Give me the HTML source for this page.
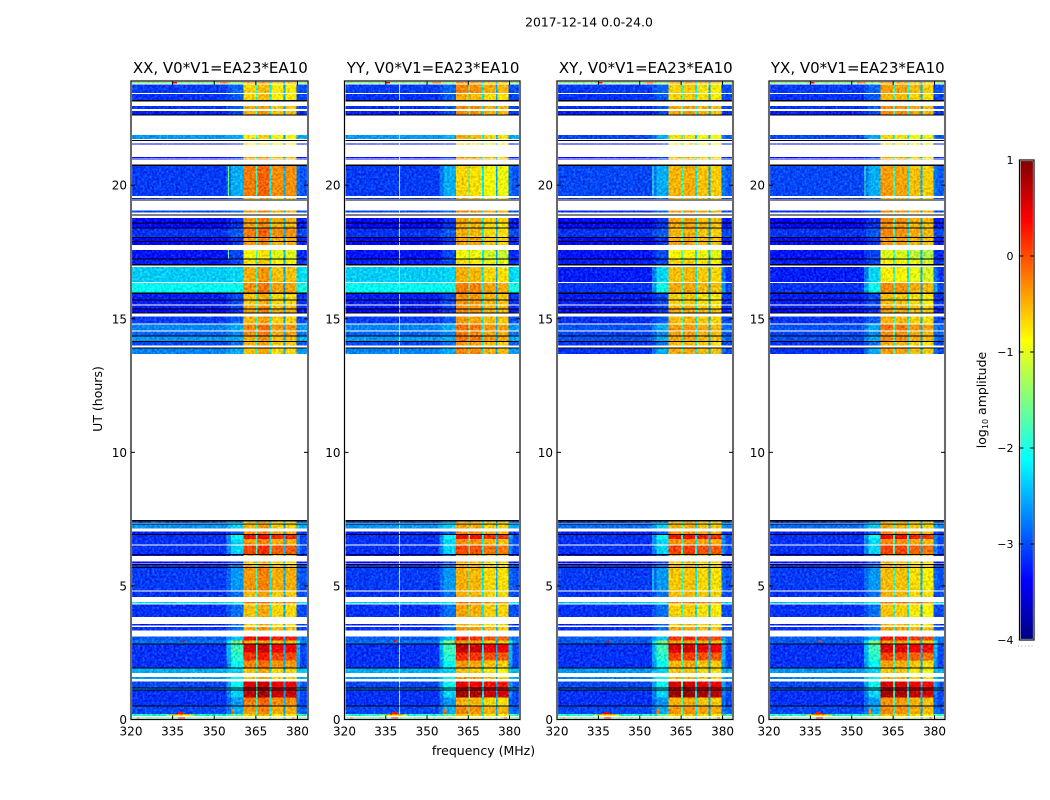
<!DOCTYPE html>
<html lang="en">
<head>
<meta charset="utf-8">
<title>2017-12-14 0.0-24.0</title>
<style>
html,body{margin:0;padding:0;background:#fff;width:1050px;height:800px;overflow:hidden}
svg{display:block}
text{font-family:"DejaVu Sans","Liberation Sans",sans-serif;fill:#000}
</style>
</head>
<body>
<svg id="figure" xmlns="http://www.w3.org/2000/svg" width="1050" height="800" viewBox="0 0 1050 800">
<defs>
<filter id="speckle" x="0" y="0" width="100%" height="100%" color-interpolation-filters="sRGB">
<feTurbulence type="fractalNoise" baseFrequency="0.42" numOctaves="2" seed="4" result="n"/>
<feColorMatrix in="n" type="matrix" values="1 0 0 0 0 1 0 0 0 0 1 0 0 0 0 0 0 0 0 1" result="g"/>
<feComposite in="SourceGraphic" in2="g" operator="arithmetic" k1="0" k2="1" k3="0.55" k4="-0.3" result="c"/>
<feComposite in="c" in2="SourceAlpha" operator="in"/>
</filter>
</defs>
<text x="589" y="26.5" font-size="12.4" text-anchor="middle">2017-12-14 0.0-24.0</text>
<text x="483.5" y="755" font-size="12.5" text-anchor="middle">frequency (MHz)</text>
<text transform="translate(102 399) rotate(-90)" font-size="12.5" text-anchor="middle">UT (hours)</text>
<text transform="translate(986 400) rotate(-90)" font-size="12.5" text-anchor="middle">log<tspan font-size="8" dy="2">10</tspan><tspan dy="-2"> amplitude</tspan></text>
</svg>
<script>
// ---- chart data ----
const panelTitles = ["XX, V0*V1=EA23*EA10","YY, V0*V1=EA23*EA10","XY, V0*V1=EA23*EA10","YX, V0*V1=EA23*EA10"];
const xTickLabels = [320,335,350,365,380];
const yTickLabels = [0,5,10,15,20];
const colorbarTickLabels = [1,0,-1,-2,-3,-4];

// observed time bands (UT hours)
const bandStart = [0,.13,.21,.52,.82,1.12,1.2,1.51,1.74,1.95,
2.21,2.51,2.85,2.96,3.33,3.51,3.83,4.34,4.58,4.83,
5.7,5.83,6.12,6.2,6.55,6.76,6.95,7.15,7.36,13.69,
14.0,14.16,14.38,14.57,14.83,15.23,15.38,15.54,15.98,16.38,
17.05,17.26,17.77,17.92,18.07,18.41,18.61,18.97,19.49,19.6,
20.94,21.0,21.52,21.72,22.65,22.86,23.18,23.46,23.81];
const bandEnd = [.07,.21,.5,.82,1.1,1.17,1.43,1.6,1.91,2.21,
2.51,2.81,2.96,3.11,3.46,3.58,4.3,4.39,4.79,5.67,
5.79,5.92,6.16,6.52,6.76,6.92,7.03,7.3,7.42,13.88,
14.13,14.34,14.53,14.79,15.09,15.35,15.5,15.93,16.34,16.94,
17.23,17.57,17.9,18.05,18.38,18.59,18.78,19.06,19.52,20.71,
20.97,21.06,21.56,21.87,22.77,22.96,23.42,23.77,23.9];

// log10 amplitude per band: off-band background
const backgroundParallel = [-1.7,-1.9,-3,-3.1,-3.1,-2.7,-3,-2.6,-2.5,-3.1,
-3.1,-3.1,-2.8,-2.9,-3.1,-3.2,-3.1,-2.3,-3.1,-3.05,
-3.1,-3.3,-3.3,-3.1,-3.1,-3.1,-3.2,-2.6,-2.9,-2.7,
-3,-2.6,-2.85,-2.7,-3.05,-3.3,-3.2,-3.2,-2.1,-2.35,
-3.2,-3.25,-3.3,-3.3,-3.1,-3.3,-3.3,-3,-3.1,-3.05,
-3.3,-3.3,-3.3,-2.6,-3.2,-3.1,-3.1,-3.05,-1.5];
const backgroundCross = [-1.7,-1.9,-3,-3.1,-3.1,-2.8,-3,-2.7,-2.6,-3.1,
-3.1,-3.1,-2.9,-2.9,-3.1,-3.2,-3.1,-2.4,-3.1,-3.05,
-3.1,-3.3,-3.3,-3.1,-3.1,-3.1,-3.2,-2.8,-3,-3.1,
-3.1,-2.95,-3,-2.95,-3.1,-3.3,-3.2,-3.2,-3.1,-3.2,
-3.2,-3.25,-3.3,-3.3,-3.1,-3.3,-3.3,-3.1,-3.1,-3,
-3.3,-3.3,-3.3,-3,-3.2,-3.1,-3.1,-3.05,-1.5];
// band-edge shoulder below the hot channels
const shoulderLevel = [-1.5,-1.6,-2.5,-2.6,-2.3,-2.2,-2.1,-2.1,-2.3,-2.1,
-1.9,-1.8,-1.5,-2.4,-2.8,-2.8,-2.8,-2.1,-2.8,-2.6,
-2.8,-3,-3,-2.3,-2.3,-2.1,-2.9,-2.3,-2.6,-2.5,
-2.8,-2.5,-2.7,-2.5,-2.9,-3.1,-3,-3,-2.05,-2.3,
-3,-3,-3.1,-3.1,-2.9,-3.1,-3.1,-2.8,-2.9,-2.5,
-3.1,-3.1,-3.1,-2.5,-3,-2.9,-2.9,-2.85,-1.4];
// hot channel level per polarisation
const channelXX = [-1,-.7,-.4,-.25,.7,.5,.5,-.6,-.6,-.3,
.1,.5,-.5,.3,-.5,-.6,-.6,-.3,-.55,-.4,
-.5,-.6,-.6,0,-.4,.25,-.4,-.55,-.6,-.6,
-.55,-.5,-.35,-.3,-.55,-.4,-.5,-.6,-.35,-.5,
-.75,-.9,-.4,-.4,-.25,-.45,-.4,-.4,-.6,-.25,
-.5,-.5,-.8,-.8,-.5,-.5,-.7,-.7,-.5];
const channelYY = [-1,-.7,-.4,-.6,.7,.4,.35,-.5,-.7,-.5,
.05,.55,-.5,.05,-.5,-.6,-.55,-.3,-.6,-.6,
-.55,-.6,-.6,-.1,-.45,.25,-.4,-.55,-.6,-.4,
-.5,-.3,-.35,-.3,-.5,-.4,-.45,-.45,-.35,-.6,
-.85,-1,-.5,-.5,-.6,-.6,-.55,-.4,-.6,-.8,
-.5,-.5,-.8,-.6,-.4,-.4,-.6,-.4,-.5];
const channelXY = [-1,-.7,-.4,-.55,.8,.45,.5,-.6,-.65,-.55,
0,.5,-.5,.1,-.5,-.6,-.7,-.3,-.6,-.65,
-.55,-.6,-.6,0,-.4,.25,-.4,-.55,-.6,-.5,
-.6,-.5,-.45,-.45,-.6,-.5,-.6,-.7,-.5,-.6,
-.7,-.9,-.5,-.5,-.55,-.5,-.5,-.45,-.6,-.55,
-.6,-.6,-.8,-.8,-.5,-.5,-.7,-.7,-.5];
const channelYX = [-1,-.7,-.4,-.45,.7,.45,.45,-.6,-.7,-.55,
-.05,.45,-.5,.15,-.5,-.6,-.7,-.3,-.6,-.65,
-.55,-.6,-.6,-.05,-.4,.25,-.4,-.55,-.6,-.5,
-.6,-.4,-.4,-.3,-.6,-.5,-.55,-.65,-.4,-.9,
-.9,-1.1,-.45,-.45,-.4,-.45,-.4,-.4,-.6,-.5,
-.6,-.6,-.8,-.8,-.4,-.4,-.6,-.5,-.5];
// per-channel difference within a polarisation
const channelShiftXX = [0,.12,-.1,-.1];
const channelShiftYY = [.1,.05,-.1,-.15];
const channelShiftXY = [.02,.05,-.05,-.1];
const channelShiftYX = [.08,.05,-.08,-.15];

// frequency layout (MHz)
const shoulderRampMHz = 354.5;
const shoulderStartMHz = 356;
const channelStartMHz = [360.5,365.6,370.7,375.6];
const channelEndMHz = [365,370,375,379.6];
const gapLevels = [-1.8,-2.2,-2.5];
const tailBreakMHz = 381;

// samples below the colour scale
const flaggedStart = [.5,1.1,1.17,1.91,2.81,5.67,5.79,6.16,6.92,7.3,7.42,13.88,14.13,14.34,15.2,15.35,15.7,15.93,17.0,17.23,17.9,18.05,18.38,18.59,18.88,19.43,20.71,21.66,22.6,23.13];
const flaggedEnd = [.52,1.12,1.2,1.95,2.85,5.7,5.83,6.2,6.95,7.34,7.46,13.93,14.16,14.38,15.23,15.38,15.73,15.98,17.05,17.26,17.92,18.07,18.41,18.61,18.91,19.46,20.78,21.69,22.65,23.18];

// narrow interference features
const spikeFreqStart = [337,333,335.5,337,356,322,338,360,378,335,352];
const spikeFreqEnd = [339.5,343,341,339,357,323,339,361,379,336.5,355];
const spikeHourStart = [0,.13,.17,.21,.21,0,2.9,2.85,0,23.81,23.81];
const spikeHourEnd = [.07,.17,.21,.28,.4,.07,2.95,2.96,.07,23.9,23.9];
const spikeLevel = [.6,-.8,-.3,.3,-.2,-.2,.2,-.2,.1,.5,-.3];

// vertical channel lines: panel index, MHz, UT range, level
const lineFreq = [355,355,339.8,354.6,354.6,354.6];
const linePanel = [0,0,1,2,2,3];
const lineHourStart = [19.6,17.26,0,19.6,4.83,19.6];
const lineHourEnd = [20.71,17.57,23.9,20.71,5.67,20.71];
const lineLevel = [-1.6,-1.6,-1.2,-1.8,-2,-1.8];

// ---- layout & scales ----
const svg = document.getElementById('figure');
const NS = 'http://www.w3.org/2000/svg';
const panelLeft = [131,344.5,557,769];
const panelRight = [308,520,733,945];
const plotTop = 81, plotBottom = 719.5;
const freqMin = 320, freqMax = 383.8, hourMax = 23.9;
const xScale = (p, f) => panelLeft[p] + (f - freqMin) / (freqMax - freqMin) * (panelRight[p] - panelLeft[p]);
const yScale = h => plotBottom - h / hourMax * (plotBottom - plotTop);
const cbLeft = 1019.5, cbRight = 1034, cbTop = 160, cbBottom = 640;
const cbScale = v => cbBottom - (v + 4) / 5 * (cbBottom - cbTop);

function jet(v){
  const t = Math.max(0, Math.min(1, (v + 4) / 5));
  const c = x => Math.round(255 * Math.max(0, Math.min(1, 1.5 - Math.abs(4 * t - x))));
  return 'rgb(' + c(3) + ',' + c(2) + ',' + c(1) + ')';
}
function make(tag, parent, props){
  const el = document.createElementNS(NS, tag);
  for (const k in props) el.setAttribute(k, props[k]);
  parent.appendChild(el);
  return el;
}
function cell(group, p, f0, f1, h0, h1, level){
  const x0 = xScale(p, f0), x1 = xScale(p, f1), y0 = yScale(h1), y1 = yScale(h0);
  const r = make('rect', group, {x:x0.toFixed(2), y:y0.toFixed(2), width:(x1-x0).toFixed(2), height:(y1-y0).toFixed(2), fill:jet(level), 'shape-rendering':'crispEdges'});
  
  
  return r;
}

const channelSeries = [channelXX, channelYY, channelXY, channelYX];
const channelShifts = [channelShiftXX, channelShiftYY, channelShiftXY, channelShiftYX];
const panelNames = ['xx','yy','xy','yx'];

panelTitles.forEach((title, p) => {
  const panel = make('g', svg, {});
  
  

  const heat = make('g', panel, {filter:'url(#speckle)'});
  
  

  bandStart.forEach((h0, b) => {
    const h1 = bandEnd[b];
    const bg = p < 2 ? backgroundParallel[b] : backgroundCross[b];
    const sh = Math.max(shoulderLevel[b], bg);
    cell(heat, p, freqMin, shoulderRampMHz, h0, h1, bg);
    cell(heat, p, shoulderRampMHz, shoulderStartMHz, h0, h1, (bg + sh) / 2);
    cell(heat, p, shoulderStartMHz, channelStartMHz[0], h0, h1, sh);
    channelStartMHz.forEach((f0, c) => {
      cell(heat, p, f0, channelEndMHz[c], h0, h1, channelSeries[p][b] + channelShifts[p][c]);
      if (c < 3) cell(heat, p, channelEndMHz[c], channelStartMHz[c + 1], h0, h1, gapLevels[c]);
    });
    cell(heat, p, channelEndMHz[3], tailBreakMHz, h0, h1, (bg + sh) / 2);
    cell(heat, p, tailBreakMHz, freqMax, h0, h1, bg + 0.1);
  });

  spikeFreqStart.forEach((f0, i) => {
    cell(heat, p, f0, spikeFreqEnd[i], spikeHourStart[i], spikeHourEnd[i], spikeLevel[i]);
  });

  lineFreq.forEach((f, i) => {
    if (linePanel[i] !== p) return;
    bandStart.forEach((h0, b) => {
      const a = Math.max(h0, lineHourStart[i]), z = Math.min(bandEnd[b], lineHourEnd[i]);
      if (a < z) cell(heat, p, f, f + 0.36, a, z, lineLevel[i]);
    });
  });

  flaggedStart.forEach((h0, i) => {
    const y0 = yScale(flaggedEnd[i]), y1 = yScale(h0);
    const r = make('rect', panel, {x:panelLeft[p], y:y0.toFixed(2), width:panelRight[p]-panelLeft[p], height:Math.max(1,(y1-y0)).toFixed(2), fill:'#000', 'shape-rendering':'crispEdges'});
    
    
  });

  const w = panelRight[p] - panelLeft[p];
  const halo = make('rect', panel, {x:panelLeft[p], y:plotTop, width:w, height:plotBottom-plotTop, fill:'none', stroke:'#cfcfcf', 'stroke-width':2.2});
  
  
  const frame = make('rect', panel, {x:panelLeft[p], y:plotTop, width:w, height:plotBottom-plotTop, fill:'none', stroke:'#000', 'stroke-width':1});
  
  

  xTickLabels.forEach(v => {
    const x = xScale(p, v);
    const t1 = make('line', panel, {x1:x, x2:x, y1:plotBottom, y2:plotBottom-4, stroke:'#000', 'stroke-width':1});
    
    
    const t2 = make('line', panel, {x1:x, x2:x, y1:plotTop, y2:plotTop+4, stroke:'#000', 'stroke-width':1});
    
    
    const l = make('text', panel, {x:x, y:plotBottom+16, 'font-size':12, 'text-anchor':'middle'});
    
    
    l.textContent = v;
  });
  yTickLabels.forEach(v => {
    const y = yScale(v);
    const t1 = make('line', panel, {x1:panelLeft[p], x2:panelLeft[p]+4, y1:y, y2:y, stroke:'#000', 'stroke-width':1});
    
    
    const t2 = make('line', panel, {x1:panelRight[p], x2:panelRight[p]-4, y1:y, y2:y, stroke:'#000', 'stroke-width':1});
    
    
    const l = make('text', panel, {x:panelLeft[p]-4, y:y+4.5, 'font-size':12, 'text-anchor':'end'});
    
    
    l.textContent = v;
  });
  const ttl = make('text', panel, {x:(panelLeft[p]+panelRight[p])/2 + 0.8, y:73, 'font-size':15, 'text-anchor':'middle'});
  
  
  ttl.textContent = title;
});

// ---- colour bar ----
const cb = make('g', svg, {});


for (let py = cbTop; py < cbBottom; py += 2) {
  const level = 1 - (py + 1 - cbTop) / (cbBottom - cbTop) * 5;
  const s = make('rect', cb, {x:cbLeft, y:py, width:cbRight-cbLeft, height:2, fill:jet(level), 'shape-rendering':'crispEdges'});
  
  
}
const cbHalo = make('rect', cb, {x:cbLeft, y:cbTop, width:cbRight-cbLeft, height:cbBottom-cbTop, fill:'none', stroke:'#cfcfcf', 'stroke-width':2.2});


const cbFrame = make('rect', cb, {x:cbLeft, y:cbTop, width:cbRight-cbLeft, height:cbBottom-cbTop, fill:'none', stroke:'#000', 'stroke-width':1});


colorbarTickLabels.forEach(v => {
  const y = cbScale(v);
  const t1 = make('line', cb, {x1:cbLeft, x2:cbLeft+4, y1:y, y2:y, stroke:'#000', 'stroke-width':1});
  
  
  const t2 = make('line', cb, {x1:cbRight, x2:cbRight-4, y1:y, y2:y, stroke:'#000', 'stroke-width':1});
  
  
  const l = make('text', cb, {x:1013.5, y:y+4, 'font-size':11, 'text-anchor':'end'});
  
  
  l.textContent = String(v).replace('-', '\u2212');
});
const cbDots = make('line', cb, {x1:1018, x2:1034, y1:646, y2:646, stroke:'#aaa', 'stroke-width':1, 'stroke-dasharray':'1 2.4'});


</script>
</body>
</html>
